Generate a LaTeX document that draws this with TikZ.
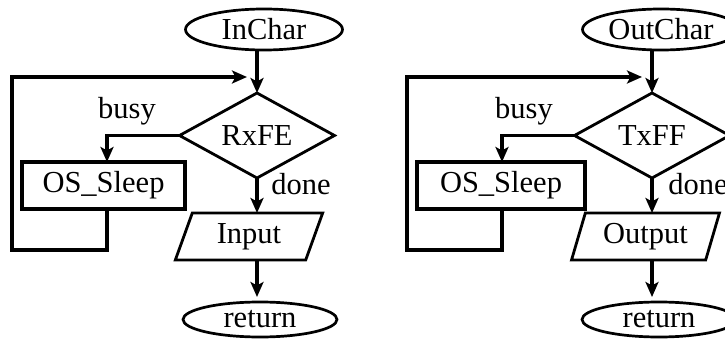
\documentclass[tikz,border=0pt]{standalone}
\usepackage{fontspec}
\setmainfont{Liberation Serif}
\usetikzlibrary{shapes.geometric,arrows.meta}
\begin{document}
\begin{tikzpicture}[x=1pt,y=-1pt,
  font=\fontsize{30.5}{36}\selectfont,
  every node/.style={inner sep=0pt, outer sep=0pt},
  term/.style={ellipse, draw, line width=2.7pt},
  dec/.style={diamond, draw, line width=2.8pt, shape aspect=1.8, minimum width=155pt, minimum height=85pt},
  proc/.style={rectangle, draw, line width=3.2pt, minimum width=163pt, minimum height=47pt},
  io/.style={trapezium, draw, line width=2.8pt, trapezium left angle=70, trapezium right angle=110, trapezium stretches=true, minimum width=148pt, minimum height=47pt},
  arr/.style={line width=3.2pt, -{Stealth[length=15pt,width=13pt,inset=3.5pt]}},
]
\useasboundingbox (0,0) rectangle (725,339);
\clip (0,0) rectangle (725,339);

% ---------- left diagram ----------
\node[term, minimum width=157pt, minimum height=41pt] (s1) at (264,29.5) {InChar};
\node[dec] (d1) at (257,135.5) {RxFE};
\node[proc] (p1) at (103.5,185.5) {OS\_Sleep};
\node[io] (i1) at (249,236.5) {Input};
\node[term, minimum width=154pt, minimum height=35pt] (r1) at (260,319.5) {return};
\node (b1) at (127,111) {busy};
\node (n1) at (301,184) {done};
\coordinate (c1) at (12,250);
\coordinate (e1) at (247,77);

\draw[arr] (s1.south -| d1.north) -- (d1.north);
\draw[arr] (d1.west) -| ([xshift=3.5pt]p1.north);
\draw[arr] (d1.south) -- (d1.south |- i1.north);
\draw[arr, shorten >=5pt] (d1.south |- i1.south) -- (d1.south |- r1.north);
\draw[arr] ([xshift=3.5pt]p1.south) |- (c1) |- (e1);

% ---------- right diagram ----------
\begin{scope}[xshift=395pt]
\node[term, minimum width=157pt, minimum height=41pt] (s2) at (266,29.5) {OutChar};
\node[dec] (d2) at (257,135.5) {TxFF};
\node[proc, minimum width=168pt] (p2) at (106,185.5) {OS\_Sleep};
\node[io] (i2) at (250.5,236.5) {Output};
\node[term, minimum width=154pt, minimum height=35pt] (r2) at (264,319.5) {return};
\node (b2) at (129,111) {busy};
\node (n2) at (303,184) {done};
\coordinate (c2) at (12,250);
\coordinate (e2) at (247,77);

\draw[arr] (s2.south -| d2.north) -- (d2.north);
\draw[arr] (d2.west) -| ([xshift=1pt]p2.north);
\draw[arr] (d2.south) -- (d2.south |- i2.north);
\draw[arr, shorten >=5pt] (d2.south |- i2.south) -- (d2.south |- r2.north);
\draw[arr] ([xshift=1pt]p2.south) |- (c2) |- (e2);
\end{scope}
\end{tikzpicture}
\end{document}
